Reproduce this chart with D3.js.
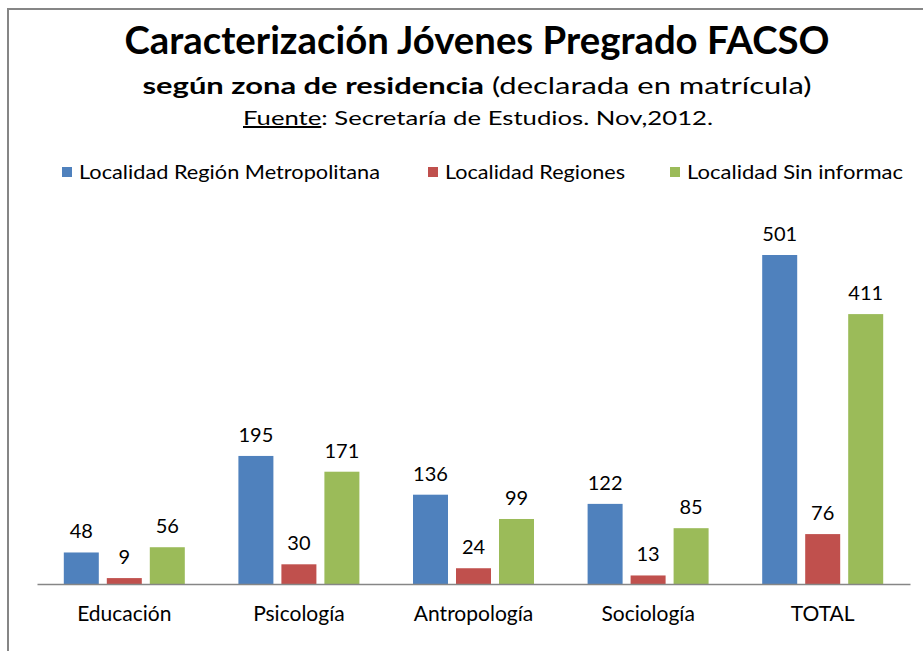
<!DOCTYPE html>
<html><head><meta charset="utf-8">
<script src="https://cdn.jsdelivr.net/npm/d3@7"></script>
<style>body{margin:0;background:#fff}svg{display:block}</style>
</head><body>
<script>
const categories = ["Educación","Psicología","Antropología","Sociología","TOTAL"];
const seriesNames = ["Localidad Región Metropolitana","Localidad Regiones","Localidad Sin informac"];
const metropolitana = [48,195,136,122,501];
const regiones = [9,30,24,13,76];
const sinInfo = [56,171,99,85,411];
const colors = ["#4F81BD","#C0504D","#9BBB59"];
const seriesValues = [metropolitana, regiones, sinInfo];

const W = 923, H = 651;
const svg = d3.select("body").append("svg").attr("width",W).attr("height",H);
const font = "Lato, 'Open Sans', sans-serif";

// border
svg.append("rect").attr("x",8).attr("y",9).attr("width",W+20).attr("height",H+20)
  .attr("fill","#fff").attr("stroke","#868686").attr("stroke-width",2);

// titles
svg.append("text").attr("x",477).attr("y",54).attr("text-anchor","middle")
  .attr("font-family",font).attr("font-weight","bold").attr("font-size",39)
  .attr("textLength",705).attr("lengthAdjust","spacingAndGlyphs")
  .text("Caracterización Jóvenes Pregrado FACSO");
const sub = svg.append("text").attr("x",477).attr("y",94).attr("text-anchor","middle")
  .attr("font-family",font).attr("font-size",23)
  .attr("textLength",669).attr("lengthAdjust","spacingAndGlyphs");
sub.append("tspan").attr("font-weight","bold").text("según zona de residencia");
sub.append("tspan").text(" (declarada en matrícula)");
const src = svg.append("text").attr("x",478).attr("y",125).attr("text-anchor","middle")
  .attr("font-family",font).attr("font-size",20)
  .attr("textLength",470).attr("lengthAdjust","spacingAndGlyphs");
src.append("tspan").attr("text-decoration","underline").text("Fuente");
src.append("tspan").text(": Secretaría de Estudios. Nov,2012.");

// legend
const legendX = [62, 428, 670];
const legendLen = [301, 180, 216];
seriesNames.forEach((s,i)=>{
  const g = svg.append("g").attr("transform",`translate(${legendX[i]},172)`);
  g.append("rect").attr("x",0).attr("y",-5).attr("width",10).attr("height",10).attr("fill",colors[i]);
  g.append("text").attr("x",17).attr("y",7).attr("font-family",font).attr("font-size",19)
    .attr("fill","#000").attr("textLength",legendLen[i]).attr("lengthAdjust","spacingAndGlyphs").text(s);
});

// scales
const x0 = d3.scaleBand().domain(categories).range([37,910]).paddingInner(0.307).paddingOuter(0.1535);
const x1 = d3.scaleBand().domain(d3.range(3)).range([0,x0.bandwidth()]).paddingInner(0.186);
const y = d3.scaleLinear().domain([0,501]).range([584,255]);

// bars
categories.forEach((c,ci)=>{
  seriesValues.forEach((vals,si)=>{
    const v = vals[ci];
    svg.append("rect").attr("x",x0(c)+x1(si)).attr("y",y(v))
      .attr("width",x1.bandwidth()).attr("height",y(0)-y(v)).attr("fill",colors[si]);
    svg.append("text").attr("x",x0(c)+x1(si)+x1.bandwidth()/2).attr("y",y(v)-14)
      .attr("text-anchor","middle").attr("font-family",font).attr("font-size",20)
      .attr("fill","#000").text(v);
  });
});

// x axis
const xAxis = svg.append("g").attr("transform",`translate(0,${y(0)})`)
  .call(d3.axisBottom(x0).tickSize(0).tickPadding(22).tickSizeOuter(0));
xAxis.select(".domain").attr("stroke","#868686").attr("stroke-width",1.5);
xAxis.selectAll("text").attr("font-family",font).attr("font-size",21).attr("fill","#000");
</script>
</body></html>
